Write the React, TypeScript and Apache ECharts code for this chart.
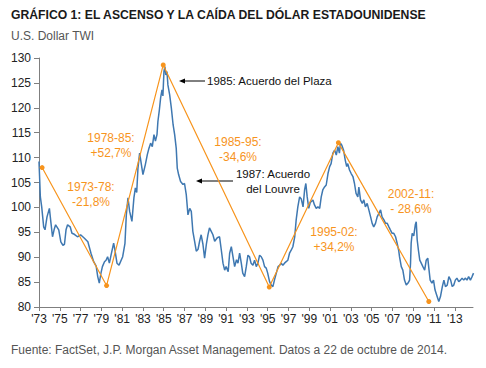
import React, { useEffect, useRef } from "react";
import * as echarts from "echarts";

const BASE_YEAR = 1973;

const twiDates: number[] = [
  1973.0, 1973.13, 1973.26, 1973.45, 1973.58, 1973.77, 1974.0, 1974.15, 1974.3, 1974.45,
  1974.6, 1974.9, 1975.1, 1975.3, 1975.45, 1975.6, 1975.75, 1976.0, 1976.17, 1976.4,
  1976.7, 1977.0, 1977.37, 1977.7, 1978.0, 1978.26, 1978.5, 1978.65, 1978.8, 1978.96,
  1979.1, 1979.3, 1979.45, 1979.6, 1979.77, 1979.93, 1980.18, 1980.3, 1980.5, 1980.7,
  1981.05, 1981.27, 1981.4, 1981.56, 1981.72, 1981.94, 1982.13, 1982.27, 1982.4, 1982.52,
  1982.68, 1982.85, 1983.0, 1983.23, 1983.42, 1983.58, 1983.74, 1983.9, 1984.06, 1984.2,
  1984.35, 1984.44, 1984.58, 1984.7, 1984.83, 1984.92, 1985.02, 1985.11, 1985.2, 1985.31,
  1985.4, 1985.57, 1985.73, 1985.9, 1986.05, 1986.2, 1986.3, 1986.43, 1986.62, 1986.85,
  1987.0, 1987.17, 1987.33, 1987.5, 1987.65, 1987.8, 1987.97, 1988.13, 1988.3, 1988.45,
  1988.6, 1988.77, 1988.93, 1989.1, 1989.25, 1989.4, 1989.57, 1989.73, 1989.9, 1990.15,
  1990.37, 1990.54, 1990.7, 1990.86, 1991.0, 1991.2, 1991.34, 1991.5, 1991.66, 1991.82,
  1992.0, 1992.14, 1992.3, 1992.46, 1992.6, 1992.78, 1992.94, 1993.1, 1993.25, 1993.4,
  1993.58, 1993.74, 1993.9, 1994.06, 1994.22, 1994.38, 1994.54, 1994.7, 1994.86, 1995.0,
  1995.18, 1995.34, 1995.5, 1995.66, 1995.83, 1996.0, 1996.15, 1996.3, 1996.46, 1996.62,
  1996.78, 1996.94, 1997.1, 1997.26, 1997.42, 1997.6, 1997.74, 1997.9, 1998.07, 1998.23,
  1998.4, 1998.55, 1998.67, 1998.8, 1998.95, 1999.1, 1999.2, 1999.35, 1999.5, 1999.67,
  1999.83, 2000.0, 2000.15, 2000.3, 2000.47, 2000.63, 2000.8, 2000.96, 2001.1, 2001.27,
  2001.44, 2001.6, 2001.75, 2001.9, 2002.0, 2002.13, 2002.3, 2002.46, 2002.6, 2002.7,
  2002.87, 2003.03, 2003.2, 2003.35, 2003.5, 2003.67, 2003.77, 2003.93, 2004.1, 2004.25,
  2004.4, 2004.57, 2004.73, 2004.9, 2005.05, 2005.2, 2005.37, 2005.53, 2005.7, 2005.86,
  2006.0, 2006.18, 2006.34, 2006.5, 2006.66, 2006.8, 2006.97, 2007.13, 2007.3, 2007.45,
  2007.6, 2007.68, 2007.85, 2008.0, 2008.16, 2008.33, 2008.5, 2008.65, 2008.74, 2008.8,
  2008.9, 2009.05, 2009.2, 2009.29, 2009.38, 2009.5, 2009.63, 2009.77, 2009.93, 2010.1,
  2010.25, 2010.4, 2010.5, 2010.63, 2010.8, 2010.95, 2011.1, 2011.3, 2011.46, 2011.62,
  2011.8, 2011.95, 2012.1, 2012.27, 2012.43, 2012.6, 2012.75, 2012.9, 2013.05, 2013.2,
  2013.38, 2013.55, 2013.7, 2013.86, 2014.0, 2014.17, 2014.33, 2014.5, 2014.66, 2014.8,
];

const twiValues: number[] = [
  109.2, 102.1, 100.1, 96.1, 95.5, 98.1, 99.8, 96.9, 94.1, 95.5,
  96.5, 95.5, 93.1, 92.4, 92.6, 95.5, 96.5, 96.1, 94.8, 94.6,
  94.1, 94.5, 93.8, 93.1, 90.8, 89.1, 88.2, 86.1, 84.8, 86.8,
  88.1, 89.1, 89.4, 90.1, 88.8, 90.4, 92.8, 91.5, 88.8, 88.4,
  90.1, 92.8, 98.5, 101.9, 99.2, 97.2, 101.9, 103.9, 103.0, 107.9,
  110.9, 108.6, 106.6, 108.6, 110.6, 111.9, 112.9, 112.2, 114.6, 113.3,
  114.6, 117.3, 119.6, 122.0, 123.6, 122.4, 127.3, 128.3, 126.6, 127.3,
  124.6, 122.6, 120.0, 116.6, 114.6, 111.9, 107.9, 106.6, 105.2, 104.6,
  104.8, 102.5, 98.5, 99.8, 99.2, 95.2, 93.2, 91.2, 91.6, 93.2,
  94.5, 92.6, 89.8, 92.6, 94.5, 95.9, 95.2, 94.5, 93.2, 93.9,
  94.1, 91.4, 88.8, 87.4, 88.1, 87.1, 90.8, 92.1, 90.1, 88.1,
  89.5, 88.8, 90.8, 88.8, 86.8, 86.1, 88.1, 90.4, 90.1, 88.8,
  88.4, 89.4, 88.1, 88.8, 90.4, 90.1, 89.4, 88.1, 87.8, 86.8,
  85.1, 84.4, 84.1, 85.5, 86.8, 88.1, 88.4, 88.8, 88.4, 88.8,
  89.1, 89.4, 90.8, 91.4, 92.1, 94.1, 97.5, 100.1, 102.1, 101.7,
  100.1, 103.5, 104.8, 102.1, 99.8, 101.0, 101.2, 101.5, 100.5, 99.8,
  100.1, 99.8, 102.1, 103.5, 104.1, 104.5, 106.8, 108.2, 108.8, 110.9,
  111.5, 110.5, 112.2, 110.9, 112.9, 112.5, 111.5, 109.5, 108.2, 108.8,
  107.5, 106.8, 106.2, 104.8, 102.8, 102.1, 104.1, 101.5, 100.8, 101.5,
  100.1, 100.8, 99.5, 98.1, 96.8, 96.1, 96.8, 98.1, 98.8, 99.5,
  98.1, 97.5, 96.8, 96.8, 96.1, 95.5, 94.8, 94.8, 94.1, 92.8,
  91.4, 90.1, 88.1, 87.4, 85.4, 84.4, 84.8, 85.4, 88.8, 92.8,
  94.8, 94.3, 96.5, 97.1, 93.5, 91.4, 89.4, 88.8, 88.1, 87.4,
  89.4, 89.8, 87.8, 85.4, 84.8, 85.4, 83.4, 82.1, 81.1, 82.1,
  84.1, 85.4, 84.1, 84.4, 86.1, 85.4, 84.1, 84.4, 85.4, 85.8,
  85.1, 85.4, 85.8, 85.4, 85.8, 85.4, 86.1, 85.4, 86.1, 86.8,
];

const trendDates: number[] = [1973.3, 1979.5, 1984.95, 1995.15, 2001.8, 2010.5];
const trendValues: number[] = [108.0, 84.3, 128.6, 84.0, 113.0, 81.1];

const yTicks: number[] = [80, 85, 90, 95, 100, 105, 110, 115, 120, 125, 130];

const TITLE = "GRÁFICO 1: EL ASCENSO Y LA CAÍDA DEL DÓLAR ESTADOUNIDENSE";
const SUBTITLE = "U.S. Dollar TWI";
const SOURCE = "Fuente: FactSet, J.P. Morgan Asset Management. Datos a 22 de octubre de 2014.";

const periodLabels: string[] = [
  "1973-78:\n-21,8%",
  "1978-85:\n+52,7%",
  "1985-95:\n-34,6%",
  "1995-02:\n+34,2%",
  "2002-11:\n- 28,6%",
];
const eventLabels: string[] = ["1985: Acuerdo del Plaza", "1987: Acuerdo\ndel Louvre"];

const BLUE = "#3f78b1";
const ORANGE = "#f7941d";
const FONT = "'Liberation Sans', Arial, sans-serif";

export default function App() {
  const ref = useRef<HTMLDivElement>(null);
  useEffect(() => {
    document.body.style.margin = "0";
    if (!ref.current) return;
    const chart = echarts.init(ref.current, undefined, { renderer: "svg" });
    const twi = twiDates.map((d, i) => [d - BASE_YEAR, twiValues[i]]);
    const trend = trendDates.map((d, i) => [d - BASE_YEAR, trendValues[i]]);

    const orangeText = (x: number, y: number, text: string) => ({
      type: "text",
      x,
      y,
      style: {
        text,
        fill: ORANGE,
        font: `12px ${FONT}`,
        align: "center",
        verticalAlign: "middle",
        lineHeight: 15,
      },
    });
    const arrow = (x1: number, x2: number, y: number) => [
      { type: "line", shape: { x1, y1: y, x2: x2 + 5, y2: y }, style: { stroke: "#000", lineWidth: 1 } },
      {
        type: "polygon",
        shape: { points: [[x2, y], [x2 + 6, y - 2.5], [x2 + 6, y + 2.5]] },
        style: { fill: "#000" },
      },
    ];

    chart.setOption({
      animation: false,
      grid: { left: 39, right: 13, top: 58, bottom: 61, containLabel: false },
      xAxis: {
        type: "value",
        min: 0,
        max: 41.75,
        interval: 2,
        axisLine: { lineStyle: { color: "#7f7f7f", width: 1 } },
        axisTick: { show: true, length: 4, lineStyle: { color: "#7f7f7f" } },
        splitLine: { show: false },
        axisLabel: {
          color: "#222",
          fontFamily: FONT,
          fontSize: 12,
          margin: 6,
          showMaxLabel: false,
          formatter: (v: number) => "'" + String((v + BASE_YEAR) % 100).padStart(2, "0"),
        },
      },
      yAxis: {
        type: "value",
        min: yTicks[0],
        max: yTicks[yTicks.length - 1],
        interval: 5,
        axisLine: { show: true, lineStyle: { color: "#7f7f7f", width: 1 } },
        axisTick: { show: true, length: 5, lineStyle: { color: "#7f7f7f" } },
        splitLine: { show: false },
        axisLabel: { color: "#222", fontFamily: FONT, fontSize: 12, margin: 8 },
      },
      series: [
        {
          type: "line",
          data: twi,
          showSymbol: false,
          symbol: "none",
          lineStyle: { color: BLUE, width: 1.5 },
          z: 2,
        },
        {
          type: "line",
          data: trend,
          symbol: "circle",
          symbolSize: 5,
          showSymbol: true,
          itemStyle: { color: ORANGE },
          lineStyle: { color: ORANGE, width: 1.2 },
          z: 3,
        },
      ],
      graphic: [
        {
          type: "text",
          left: 11,
          top: 9,
          style: { text: TITLE, fill: "#1a1a1a", font: `bold 12.2px ${FONT}` },
        },
        {
          type: "text",
          left: 11,
          top: 30,
          style: { text: SUBTITLE, fill: "#555", font: `12px ${FONT}` },
        },
        {
          type: "text",
          left: 11,
          top: 344,
          style: { text: SOURCE, fill: "#555", font: `12px ${FONT}` },
        },
        orangeText(91, 194.5, periodLabels[0]),
        orangeText(111, 145, periodLabels[1]),
        orangeText(238, 149.5, periodLabels[2]),
        orangeText(334, 239.5, periodLabels[3]),
        orangeText(411, 201.5, periodLabels[4]),
        {
          type: "text",
          x: 207,
          y: 81,
          style: { text: eventLabels[0], fill: "#111", font: `11.5px ${FONT}`, verticalAlign: "middle" },
        },
        {
          type: "text",
          x: 273,
          y: 181.5,
          style: {
            text: eventLabels[1],
            fill: "#111",
            font: `11.5px ${FONT}`,
            align: "center",
            verticalAlign: "middle",
            lineHeight: 15,
          },
        },
        ...arrow(205, 179, 81),
        ...arrow(233, 196, 181),
      ],
    });
    return () => chart.dispose();
  }, []);
  return <div ref={ref} style={{ width: 486, height: 368 }} />;
}
